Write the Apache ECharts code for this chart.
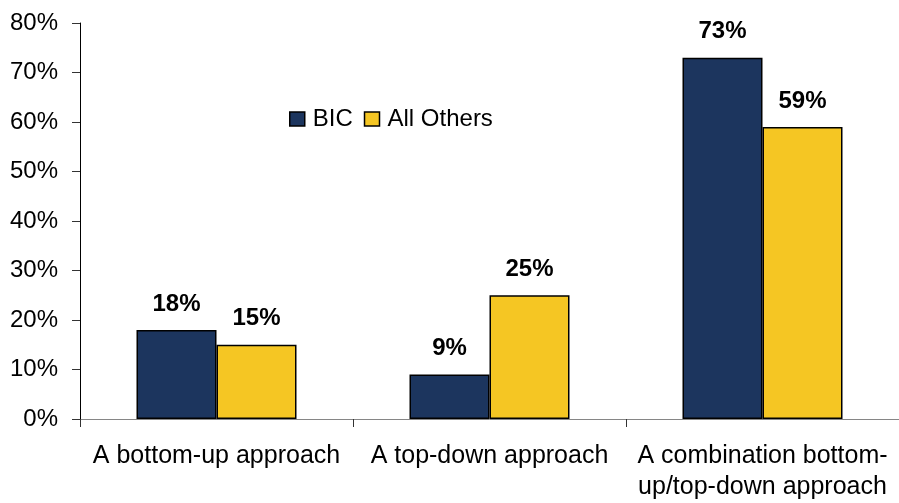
<!DOCTYPE html>
<html>
<head>
<meta charset="utf-8">
<script src="https://cdn.jsdelivr.net/npm/echarts@6/dist/echarts.min.js"></script>
<style>
  html, body { margin: 0; padding: 0; background: #fff; }
  #chart { width: 899px; height: 503px; }
</style>
</head>
<body>
<div id="chart"></div>
<script>
// 分类与数据
const categories = ['A bottom-up approach', 'A top-down approach', 'A combination bottom-\nup/top-down approach']
const bicValues = [18, 9, 73]
const otherValues = [15, 25, 59]
const yTicks = { min: 0, max: 80, interval: 10 }

const FONT = '"Liberation Sans", Arial, sans-serif'

const chart = echarts.init(document.getElementById('chart'), null, { renderer: 'canvas' })

const labelStyle = {
    show: true,
    position: 'top',
    distance: 14,
    formatter: (p) => p.value + '%',
    fontFamily: FONT,
    fontSize: 24,
    fontWeight: 'bold',
    color: '#000'
}

chart.setOption({
    animation: false,
    backgroundColor: '#fff',
    textStyle: { fontFamily: FONT },
    legend: {
        left: 289,
        top: 107,
        padding: 0,
        icon: 'rect',
        itemWidth: 15,
        itemHeight: 14,
        itemGap: 11,
        itemStyle: { borderColor: '#000', borderWidth: 1.5 },
        textStyle: { fontFamily: FONT, fontSize: 24, color: '#000', padding: [0, 0, 0, 3] },
        data: ['BIC', 'All Others']
    },
    grid: { left: 80, top: 23, width: 828, height: 397, containLabel: false },
    xAxis: {
        type: 'category',
        data: categories,
        axisLine: { lineStyle: { color: '#868686', width: 1 } },
        axisTick: { show: true, length: 8, lineStyle: { color: '#333' } },
        axisLabel: {
            fontFamily: FONT,
            fontSize: 25,
            color: '#000',
            margin: 22,
            lineHeight: 31,
            interval: 0
        }
    },
    yAxis: {
        type: 'value',
        min: yTicks.min,
        max: yTicks.max,
        interval: yTicks.interval,
        axisLine: { show: true, lineStyle: { color: '#000', width: 1 } },
        axisTick: { show: true, length: 8, lineStyle: { color: '#333' } },
        splitLine: { show: false },
        axisLabel: {
            formatter: '{value}%',
            fontFamily: FONT,
            fontSize: 24,
            color: '#000',
            margin: 22
        }
    },
    series: [
        {
            name: 'BIC',
            type: 'bar',
            data: bicValues,
            barWidth: 80,
            barGap: '0%',
            itemStyle: { color: '#1C355E', borderColor: '#000', borderWidth: 1.5 },
            label: labelStyle
        },
        {
            name: 'All Others',
            type: 'bar',
            data: otherValues,
            barWidth: 80,
            itemStyle: { color: '#F5C623', borderColor: '#000', borderWidth: 1.5 },
            label: labelStyle
        }
    ]
})
</script>
</body>
</html>
